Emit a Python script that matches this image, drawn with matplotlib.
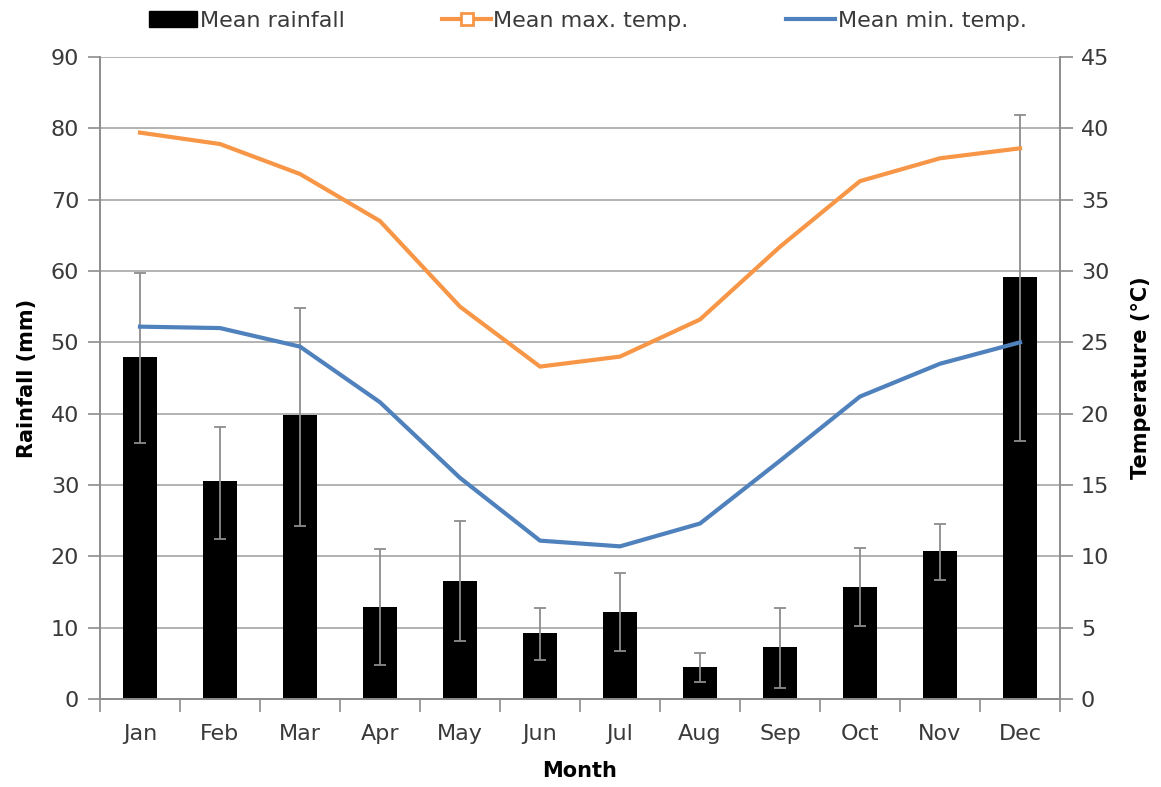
import numpy as np
import matplotlib.pyplot as plt
from matplotlib.lines import Line2D
from matplotlib.patches import Patch

plt.rcParams['font.family'] = ['DejaVu Sans']

months = ['Jan', 'Feb', 'Mar', 'Apr', 'May', 'Jun', 'Jul', 'Aug', 'Sep', 'Oct', 'Nov', 'Dec']
rain_mean = [47.9, 30.5, 39.8, 12.9, 16.6, 9.3, 12.2, 4.5, 7.3, 15.7, 20.7, 59.1]
rain_low = [35.9, 22.5, 24.2, 4.7, 8.1, 5.5, 6.7, 2.4, 1.6, 10.2, 16.7, 36.1]
rain_high = [59.7, 38.2, 54.8, 21.0, 25.0, 12.8, 17.7, 6.4, 12.8, 21.2, 24.6, 81.8]
max_temp = [39.7, 38.9, 36.8, 33.5, 27.5, 23.3, 24.0, 26.6, 31.7, 36.3, 37.9, 38.6]
min_temp = [26.1, 26.0, 24.7, 20.8, 15.5, 11.1, 10.7, 12.3, 16.7, 21.2, 23.5, 25.0]

orange = '#F79646'
blue = '#4F81BD'
grey = '#8c8c8c'
text_col = '#3a3a3a'

x = np.arange(len(months))
rain = np.array(rain_mean)
yerr = [rain - np.array(rain_low), np.array(rain_high) - rain]

fig = plt.figure(figsize=(11.61, 7.87), dpi=100)
ax = fig.add_axes([100 / 1161, 1 - 699 / 787, 960 / 1161, 642 / 787])
ax2 = ax.twinx()

ax.bar(x, rain, width=0.42, color='black', zorder=2)
ax.errorbar(x, rain, yerr=yerr, fmt='none', ecolor=grey, elinewidth=1.3,
            capsize=4.5, capthick=1.3, zorder=3)

ax2.plot(x, max_temp, color=orange, lw=3.0, solid_joinstyle='round')
ax2.plot(x, min_temp, color=blue, lw=3.0, solid_joinstyle='round')

ax.set_xlim(-0.5, 11.5)
ax.set_ylim(0, 90)
ax2.set_ylim(0, 45)
ax.set_yticks(np.arange(0, 91, 10))
ax2.set_yticks(np.arange(0, 46, 5))
ax.yaxis.grid(True, color='#a6a6a6', lw=1.2, zorder=0)
ax.set_axisbelow(True)

ax.set_xticks(x)
ax.set_xticklabels(months)
ax.set_xticks(np.arange(-0.5, 12, 1), minor=True)
ax.tick_params(axis='x', which='major', length=0, pad=18, labelsize=16, colors=text_col)
ax.tick_params(axis='x', which='minor', length=9, width=1.2, color=grey)
ax.tick_params(axis='y', length=9, width=1.2, color=grey, labelsize=16,
               labelcolor=text_col, pad=6)
ax2.tick_params(axis='y', length=9, width=1.2, color=grey, labelsize=16,
                labelcolor=text_col, pad=6)

for a in (ax, ax2):
    a.spines['top'].set_visible(False)
    for s in ('left', 'right', 'bottom'):
        a.spines[s].set_color(grey)
        a.spines[s].set_linewidth(1.2)

ax.set_xlabel('Month', fontsize=15, fontweight='bold', labelpad=12)
ax.set_ylabel('Rainfall (mm)', fontsize=15, fontweight='bold', labelpad=10)
ax2.set_ylabel('Temperature (°C)', fontsize=15, fontweight='bold', labelpad=16)

handles = [
    Patch(facecolor='black', edgecolor='black'),
    Line2D([], [], color=orange, lw=3.0, marker='s', markersize=9,
           markerfacecolor='white', markeredgecolor=orange, markeredgewidth=2),
    Line2D([], [], color=blue, lw=3.0),
]
fig.legend(handles, ['Mean rainfall', 'Mean max. temp.', 'Mean min. temp.'],
           loc='upper center', bbox_to_anchor=(0.506, 1.012), ncol=3, frameon=False,
           fontsize=16, handlelength=2.2, handletextpad=0.1, columnspacing=4.4,
           labelcolor=text_col)

fig.savefig('out.png', dpi=100)
